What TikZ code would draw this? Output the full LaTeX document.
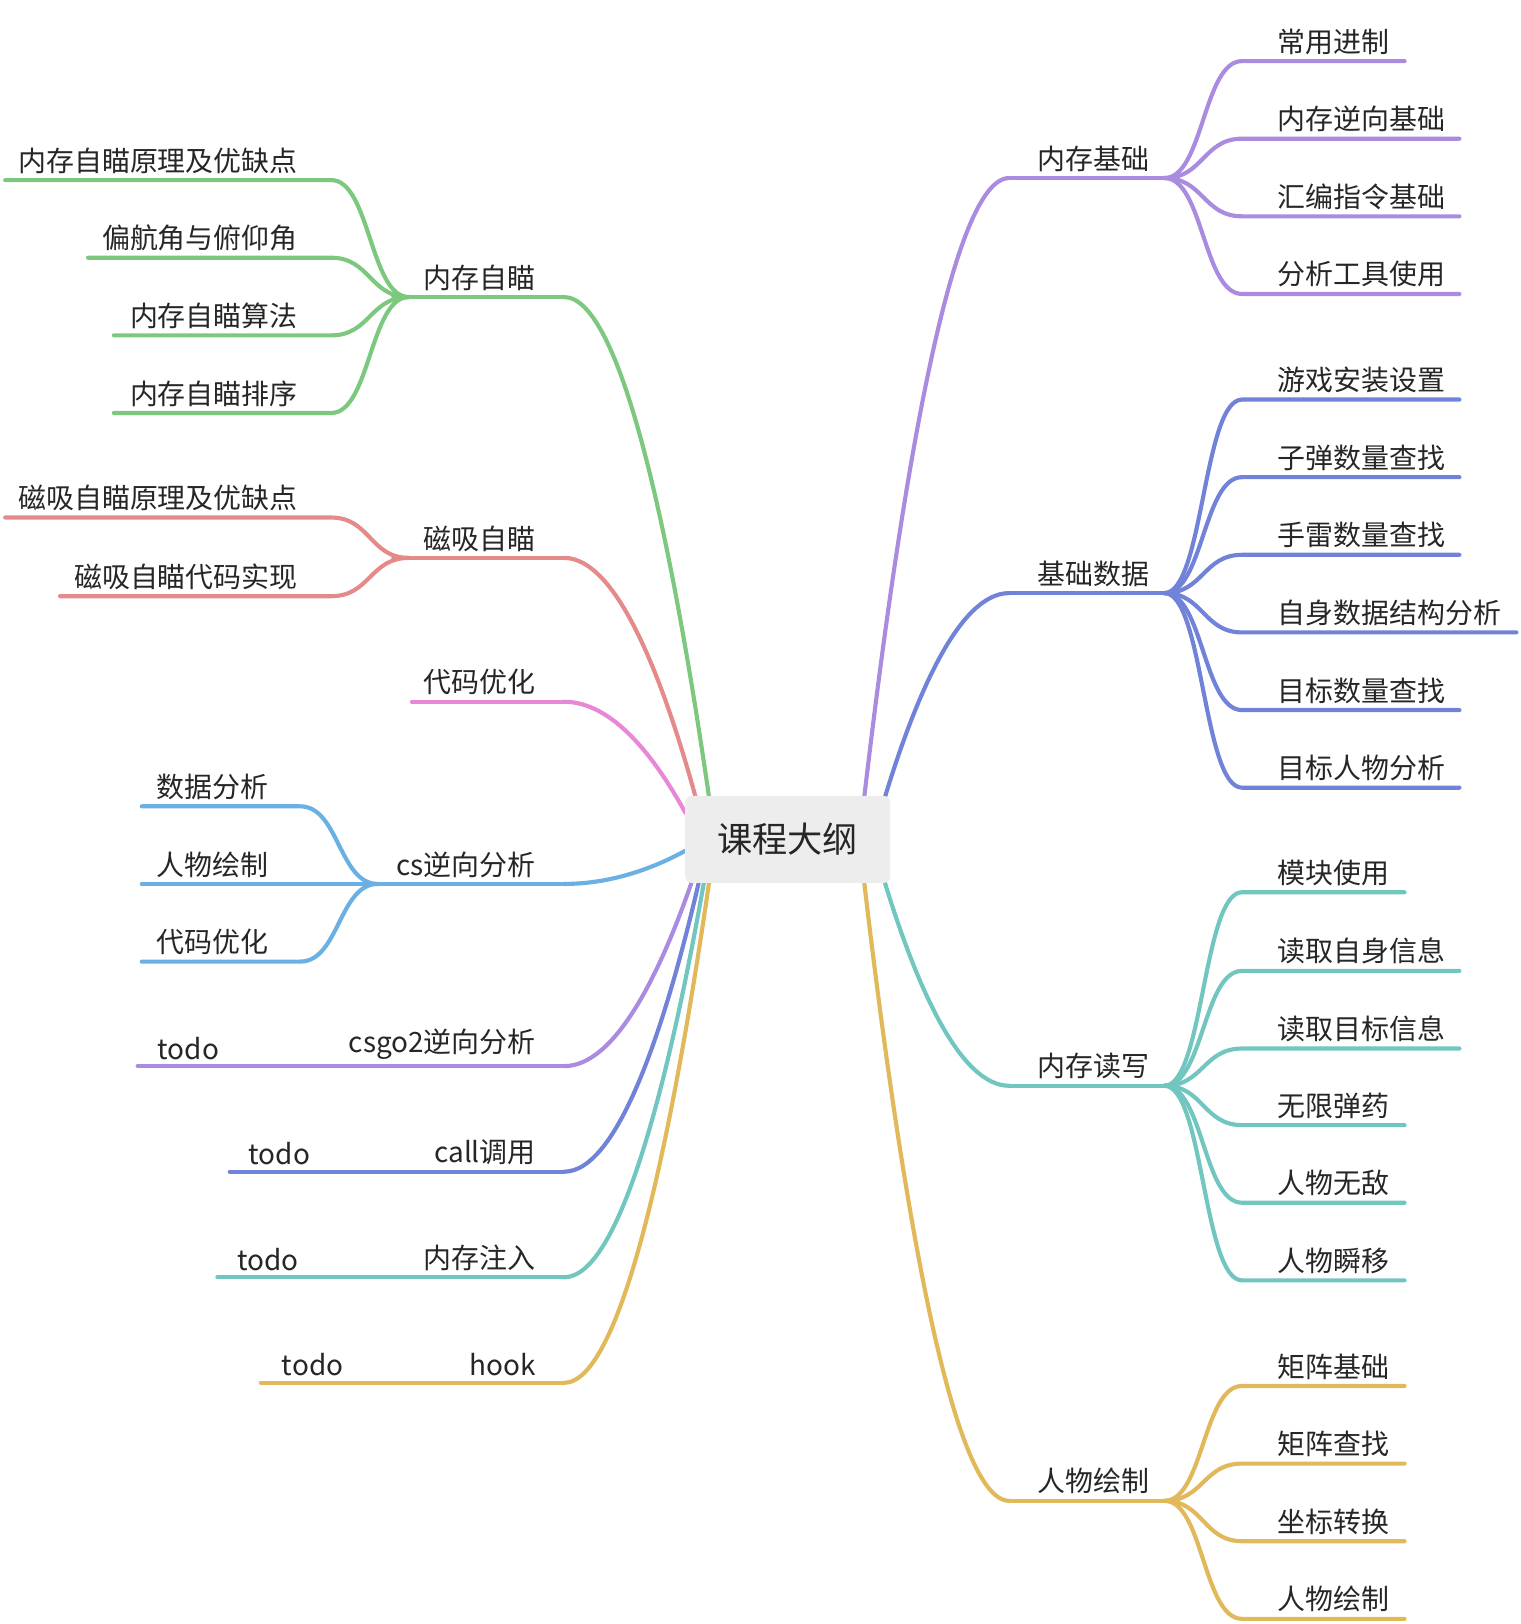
\documentclass[tikz,border=0pt]{standalone}
\usepackage{fontspec}
\setmainfont{Noto Sans CJK SC}
\definecolor{cg}{HTML}{7DC87F}
\definecolor{cr}{HTML}{E58A8A}
\definecolor{cp}{HTML}{E887D6}
\definecolor{cb}{HTML}{6AB0E3}
\definecolor{cv}{HTML}{A98CE0}
\definecolor{ci}{HTML}{7182D9}
\definecolor{ct}{HTML}{72C6C0}
\definecolor{cy}{HTML}{E1B85A}
\newcommand\mainbr[5]{\draw[br,#1] (#2,#3) .. controls ({#2+0.25*(#4-#2)},{#3+0.5*(#5-#3)}) and ({#2+0.6*(#4-#2)},#5) .. (#4,#5);}
\newcommand\subbr[6]{\draw[br,#1] (#2,#3) .. controls ({#2+0.5*(#4-#2)},#3) and ({#2+0.5*(#4-#2)},#5) .. (#4,#5) -- (#6,#5);}
\newcommand\rt[3]{\node[lbl,anchor=south west] at (#1,{#2-4}) {#3};}
\newcommand\lt[3]{\node[lbl,anchor=south east] at (#1,{#2-4}) {#3};}
\begin{document}
\begin{tikzpicture}[x=0.5pt,y=-0.5pt,br/.style={line width=2pt,line cap=round},
 lbl/.style={font=\fontsize{13.5pt}{15pt}\selectfont,inner sep=1pt,text=black!85}]
\useasboundingbox (0,0) rectangle (1469,1569);
% right
\mainbr{cv}{835}{770}{975}{172}\draw[br,cv](975,172)--(1135,172);
\mainbr{ci}{855}{770}{975}{573}\draw[br,ci](975,573)--(1135,573);
\mainbr{ct}{855}{853}{975}{1049}\draw[br,ct](975,1049)--(1135,1049);
\mainbr{cy}{835}{853}{975}{1450}\draw[br,cy](975,1450)--(1135,1450);
\rt{1000}{172}{内存基础}\rt{1000}{573}{基础数据}\rt{1000}{1049}{内存读写}\rt{1000}{1450}{人物绘制}
\subbr{cv}{1125}{172}{1200}{59}{1357}\rt{1232}{59}{常用进制}
\subbr{cv}{1125}{172}{1200}{134}{1410}\rt{1232}{134}{内存逆向基础}
\subbr{cv}{1125}{172}{1200}{209}{1410}\rt{1232}{209}{汇编指令基础}
\subbr{cv}{1125}{172}{1200}{284}{1410}\rt{1232}{284}{分析工具使用}
\subbr{ci}{1125}{573}{1200}{386}{1410}\rt{1232}{386}{游戏安装设置}
\subbr{ci}{1125}{573}{1200}{461}{1410}\rt{1232}{461}{子弹数量查找}
\subbr{ci}{1125}{573}{1200}{536}{1410}\rt{1232}{536}{手雷数量查找}
\subbr{ci}{1125}{573}{1200}{611}{1465}\rt{1232}{611}{自身数据结构分析}
\subbr{ci}{1125}{573}{1200}{686}{1410}\rt{1232}{686}{目标数量查找}
\subbr{ci}{1125}{573}{1200}{761}{1410}\rt{1232}{761}{目标人物分析}
\subbr{ct}{1125}{1049}{1200}{862}{1357}\rt{1232}{862}{模块使用}
\subbr{ct}{1125}{1049}{1200}{938}{1410}\rt{1232}{938}{读取自身信息}
\subbr{ct}{1125}{1049}{1200}{1013}{1410}\rt{1232}{1013}{读取目标信息}
\subbr{ct}{1125}{1049}{1200}{1087}{1357}\rt{1232}{1087}{无限弹药}
\subbr{ct}{1125}{1049}{1200}{1162}{1357}\rt{1232}{1162}{人物无敌}
\subbr{ct}{1125}{1049}{1200}{1237}{1357}\rt{1232}{1237}{人物瞬移}
\subbr{cy}{1125}{1450}{1200}{1339}{1357}\rt{1232}{1339}{矩阵基础}
\subbr{cy}{1125}{1450}{1200}{1414}{1357}\rt{1232}{1414}{矩阵查找}
\subbr{cy}{1125}{1450}{1200}{1489}{1357}\rt{1232}{1489}{坐标转换}
\subbr{cy}{1125}{1450}{1200}{1564}{1357}\rt{1232}{1564}{人物绘制}
% left
\mainbr{cg}{685}{770}{545}{287}\draw[br,cg](545,287)--(380,287);\lt{520}{287}{内存自瞄}
\subbr{cg}{395}{287}{320}{174}{5}\lt{290}{174}{内存自瞄原理及优缺点}
\subbr{cg}{395}{287}{320}{249}{85}\lt{290}{249}{偏航角与俯仰角}
\subbr{cg}{395}{287}{320}{324}{110}\lt{290}{324}{内存自瞄算法}
\subbr{cg}{395}{287}{320}{399}{110}\lt{290}{399}{内存自瞄排序}
\mainbr{cr}{672}{770}{545}{539}\draw[br,cr](545,539)--(380,539);\lt{520}{539}{磁吸自瞄}
\subbr{cr}{395}{539}{320}{500}{5}\lt{290}{500}{磁吸自瞄原理及优缺点}
\subbr{cr}{395}{539}{320}{576}{58}\lt{290}{576}{磁吸自瞄代码实现}
\mainbr{cp}{662}{785}{545}{678}\draw[br,cp](545,678)--(398,678);\lt{520}{678}{代码优化}
\mainbr{cb}{662}{822}{545}{854}\draw[br,cb](545,854)--(137,854);\lt{520}{854}{cs逆向分析}
\subbr{cb}{365}{854}{290}{779}{137}\lt{262}{779}{数据分析}
\lt{262}{854}{人物绘制}
\subbr{cb}{365}{854}{290}{929}{137}\lt{262}{929}{代码优化}
\mainbr{cv}{668}{853}{545}{1030}\draw[br,cv](545,1030)--(133,1030);\lt{520}{1030}{csgo2逆向分析}\rt{150}{1030}{todo}
\mainbr{ci}{675}{853}{545}{1132}\draw[br,ci](545,1132)--(222,1132);\lt{520}{1132}{call调用}\rt{238}{1132}{todo}
\mainbr{ct}{680}{853}{545}{1234}\draw[br,ct](545,1234)--(210,1234);\lt{520}{1234}{内存注入}\rt{227}{1234}{todo}
\mainbr{cy}{685}{853}{545}{1336}\draw[br,cy](545,1336)--(252,1336);\lt{520}{1336}{hook}\rt{270}{1336}{todo}
% center
\node[fill=black!7,rounded corners=3pt,minimum width=99pt,minimum height=42pt,
 font=\fontsize{17pt}{19pt}\selectfont,text=black!85] (c) at (761,811) {课程大纲};
\end{tikzpicture}
\end{document}
